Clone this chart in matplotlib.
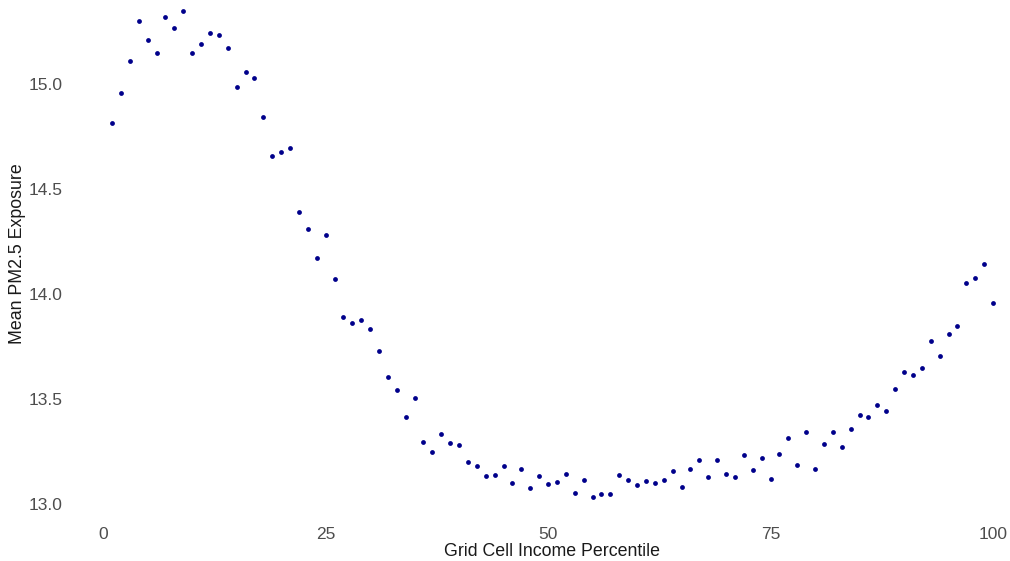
import numpy as np
import matplotlib
matplotlib.use("Agg")
import matplotlib.pyplot as plt

plt.rcParams['font.family'] = ['Liberation Sans', 'DejaVu Sans']

# income percentile 1..100 and mean PM2.5
percentile = np.arange(1, 101)
pm25 = [
    14.815, 14.958, 15.111, 15.302, 15.212, 15.149, 15.322, 15.268, 15.351, 15.150,
    15.192, 15.244, 15.238, 15.176, 14.988, 15.061, 15.032, 14.846, 14.660, 14.676,
    14.698, 14.393, 14.309, 14.172, 14.283, 14.070, 13.892, 13.860, 13.877, 13.833,
    13.728, 13.605, 13.542, 13.411, 13.505, 13.292, 13.247, 13.330, 13.289, 13.281,
    13.198, 13.178, 13.133, 13.136, 13.178, 13.099, 13.163, 13.073, 13.133, 13.093,
    13.103, 13.139, 13.050, 13.111, 13.032, 13.045, 13.045, 13.136, 13.111, 13.090,
    13.106, 13.096, 13.112, 13.154, 13.079, 13.166, 13.208, 13.128, 13.206, 13.141,
    13.127, 13.232, 13.161, 13.217, 13.117, 13.235, 13.311, 13.184, 13.340, 13.163,
    13.284, 13.340, 13.271, 13.354, 13.421, 13.411, 13.469, 13.443, 13.545, 13.628,
    13.612, 13.648, 13.774, 13.703, 13.808, 13.847, 14.051, 14.076, 14.142, 13.957,
]
xticks = [0, 25, 50, 75, 100]
yticks = [13.0, 13.5, 14.0, 14.5, 15.0]

W, H = 1010, 561
fig = plt.figure(figsize=(W / 100, H / 100), dpi=100)
# panel: left edge at 68px, bottom at 521.5px from top, runs to top/right edges
ax = fig.add_axes([68 / W, (H - 521.5) / H, 1 - 68 / W, 521.5 / H])

ax.scatter(percentile, pm25, s=12, color='#00008B', linewidths=0, zorder=3)

ax.set_xlim(-3.95, (1010 - 103) / 8.9)
ax.set_ylim(15 - (521.5 - 84.5) / 209.5, 15 + 84.5 / 209.5)
ax.set_xticks(xticks)
ax.set_xticklabels([str(t) for t in xticks])
ax.set_yticks(yticks)
ax.set_yticklabels([f"{t:.1f}" for t in yticks])

for s in ax.spines.values():
    s.set_visible(False)
ax.tick_params(length=0, labelsize=12.5, labelcolor='#4D4D4D', pad=4)
for lbl in ax.get_xticklabels() + ax.get_yticklabels():
    lbl.set_clip_on(False)

ax.set_xlabel('Grid Cell Income Percentile', fontsize=12.8, color='#1A1A1A', va='center')
ax.set_ylabel('Mean PM2.5 Exposure', fontsize=12.8, color='#1A1A1A', va='center')
# titles centred on the original (wider) panel
ax.xaxis.set_label_coords((552 - 68) / (W - 68), (521.5 - 551) / 521.5)
ax.yaxis.set_label_coords((18 - 68) / (W - 68), (521.5 - 254) / 521.5)

fig.savefig('out.png', dpi=100)
